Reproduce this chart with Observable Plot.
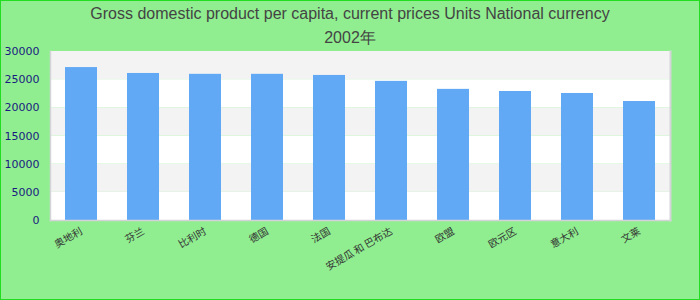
<!DOCTYPE html>
<html>
<head>
<meta charset="utf-8">
<script src="https://cdn.jsdelivr.net/npm/d3@7"></script>
<script src="https://cdn.jsdelivr.net/npm/@observablehq/plot@0.6"></script>
<style>
  html, body { margin: 0; padding: 0; }
  #wrap {
    position: relative; width: 700px; height: 300px; box-sizing: border-box;
    background: #90ee90; outline: 1px solid #22dd22; outline-offset: -1px; overflow: hidden;
  }
  #title {
    height: 48px; box-sizing: border-box; padding-top: 2px;
    font-family: "Liberation Sans Narrow", "Liberation Sans", Arial, sans-serif;
    font-size: 16px; line-height: 24px; color: #444; text-align: center;
  }
  #title div { white-space: nowrap; }
  svg { display: block; }
</style>
</head>
<body>
<div id="wrap">
  <div id="title">
    <div id="t1"></div>
    <div id="t2"></div>
  </div>
  <div id="chart"></div>
</div>
<script>
const titleLine1 = "Gross domestic product per capita, current prices Units National currency";
const titleLine2 = "2002年";
const categories = ["奥地利", "芬兰", "比利时", "德国", "法国", "安提瓜 和 巴布达", "欧盟", "欧元区", "意大利", "文莱"];
const values = [27150, 26100, 25950, 25950, 25750, 24700, 23280, 22900, 22550, 21120];
const yTicks = [0, 5000, 10000, 15000, 20000, 25000, 30000];

document.getElementById("t1").textContent = titleLine1;
document.getElementById("t2").textContent = titleLine2;

const data = categories.map((c, i) => ({category: c, value: values[i]}));
const bands = yTicks.slice(0, -1).map((t, i) => ({y1: t, y2: yTicks[i + 1], odd: i % 2 === 1}));

const chart = Plot.plot({
  width: 700,
  height: 252,
  marginLeft: 50,
  marginRight: 30,
  marginTop: 3,
  marginBottom: 80,
  style: {background: "transparent", overflow: "visible"},
  x: {domain: categories, paddingInner: 0.48, paddingOuter: 0.24, label: null},
  y: {domain: [0, 30000], label: null},
  marks: [
    Plot.rect(bands, {y1: "y1", y2: "y2", fill: d => d.odd ? "#f3f3f3" : "#ffffff"}),
    Plot.barY(data, {x: "category", y: "value", fill: "#62a9f5"}),
    Plot.frame({anchor: "left", stroke: "#d4d4d8", strokeWidth: 1.5}),
    Plot.frame({anchor: "right", stroke: "#d4d4d8", strokeWidth: 2}),
    Plot.frame({anchor: "bottom", stroke: "#d4d4d8", strokeWidth: 1.5}),
    Plot.axisY({ticks: yTicks, tickFormat: d => String(d), tickSize: 0, tickPadding: 11,
      fontSize: 11, fontFamily: "DejaVu Sans", fill: "#1a1a80", label: null}),
    Plot.axisX({tickSize: 0, tickPadding: 10, tickRotate: -30, fontSize: 10,
      fontFamily: "Noto Sans CJK SC", fill: "#333", label: null})
  ]
});
document.getElementById("chart").appendChild(chart);
</script>
</body>
</html>
